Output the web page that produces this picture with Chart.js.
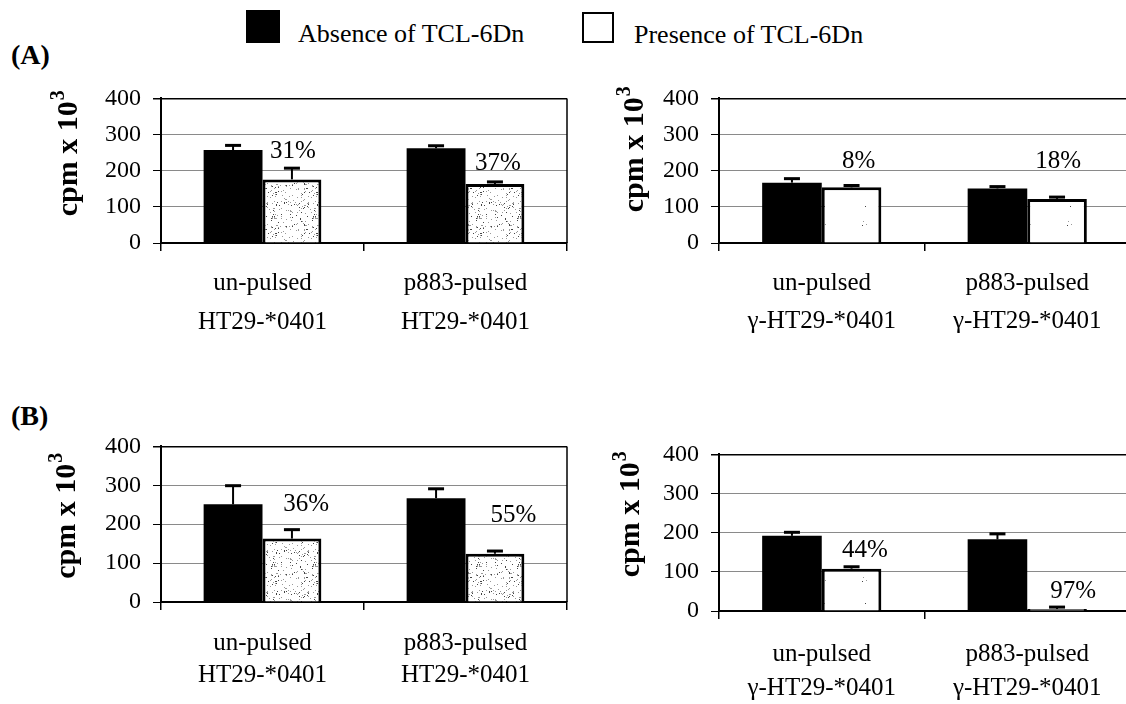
<!DOCTYPE html>
<html>
<head>
<meta charset="utf-8">
<script src="https://cdn.jsdelivr.net/npm/chart.js@4.4.0/dist/chart.umd.min.js"></script>
<style>
  body { margin: 0; background: #fff; width: 1126px; height: 704px; overflow: hidden; position: relative;
         font-family: "Liberation Serif", "Times New Roman", serif; color: #000; }
  .panel { position: absolute; }
  .tag { position: absolute; font-weight: bold; font-size: 28px; line-height: 28px; }
  .legend-box { position: absolute; box-sizing: border-box; }
  .legend-text { position: absolute; font-size: 26px; line-height: 34px; white-space: nowrap; }
</style>
</head>
<body>
<div class="tag" style="left:11px;top:41px">(A)</div>
<div class="tag" style="left:11px;top:402px">(B)</div>

<div class="legend-box" style="left:246px;top:10px;width:34px;height:33px;background:#000"></div>
<div class="legend-text" style="left:298px;top:17px">Absence of TCL-6Dn</div>
<div class="legend-box" style="left:582px;top:12px;width:32px;height:31px;border:2.5px solid #000;background:#fff"></div>
<div class="legend-text" style="left:634px;top:18px">Presence of TCL-6Dn</div>

<div class="panel" style="left:0px;top:72px;width:577px;height:271px"><canvas id="chartA1"></canvas></div>
<div class="panel" style="left:558px;top:72px;width:582px;height:271px"><canvas id="chartA2"></canvas></div>
<div class="panel" style="left:0px;top:420px;width:577px;height:282px"><canvas id="chartB1"></canvas></div>
<div class="panel" style="left:558px;top:428px;width:582px;height:283px"><canvas id="chartB2"></canvas></div>

<script>
// categories and ticks
const catsHT29 = [["un-pulsed", "HT29-*0401"], ["p883-pulsed", "HT29-*0401"]];
const catsGamma = [["un-pulsed", "γ-HT29-*0401"], ["p883-pulsed", "γ-HT29-*0401"]];
const yMin = 0;
const yMax = 400;
const yStep = 100;

// (A) left: HT29-*0401
const absenceA1 = [257, 262];
const absenceErrA1 = [13, 7];
const presenceA1 = [176, 163];
const presenceErrA1 = [31, 6];
const pctA1 = ["31%", "37%"];
const pctAtA1 = [0.15, 1.16];
const pctValA1 = [252, 220];

// (A) right: γ-HT29-*0401
const absenceA2 = [167, 151];
const absenceErrA2 = [11, 5];
const presenceA2 = [154, 122];
const presenceErrA2 = [5, 5];
const pctA2 = ["8%", "18%"];
const pctAtA2 = [0.18, 1.15];
const pctValA2 = [225, 225];

// (B) left: HT29-*0401
const absenceB1 = [251, 267];
const absenceErrB1 = [48, 24];
const presenceB1 = [163, 124];
const presenceErrB1 = [23, 7];
const pctB1 = ["36%", "55%"];
const pctAtB1 = [0.215, 1.236];
const pctValB1 = [250, 223];

// (B) right: γ-HT29-*0401
const absenceB2 = [192, 183];
const absenceErrB2 = [9, 14];
const presenceB2 = [108, 5];
const presenceErrB2 = [5, 5];
const pctB2 = ["44%", "97%"];
const pctAtB2 = [0.21, 1.224];
const pctValB2 = [154, 49];

const SERIF = "'Liberation Serif', 'Times New Roman', serif";

// scanned-looking speckle for the "presence" bars (fixed seed, texture only)
function speckle(dots) {
    const size = 41;
    const c = document.createElement("canvas");
    c.width = size;
    c.height = size;
    const g = c.getContext("2d");
    g.fillStyle = "#fff";
    g.fillRect(0, 0, size, size);
    let s = 12345;
    for (let k = 0; k < dots; k++) {
        s = (s * 1103515245 + 12345) & 0x7fffffff;
        const px = s % size;
        s = (s * 1103515245 + 12345) & 0x7fffffff;
        const py = s % size;
        g.fillStyle = k % 3 === 0 ? "#444" : "#9a9a9a";
        g.fillRect(px, py, 1, 1);
    }
    return g.createPattern(c, "repeat");
}

// error bars (upper half only, like the original)
const errorBars = {
    id: "errorBars",
    afterDatasetsDraw(chart) {
        const ctx = chart.ctx;
        const y = chart.scales.y;
        chart.data.datasets.forEach((ds, i) => {
            chart.getDatasetMeta(i).data.forEach((bar, j) => {
                const top = y.getPixelForValue(ds.data[j] + ds.errors[j]);
                ctx.save();
                ctx.strokeStyle = "#000";
                ctx.lineWidth = 2;
                ctx.beginPath();
                ctx.moveTo(bar.x, bar.y);
                ctx.lineTo(bar.x, top);
                ctx.stroke();
                ctx.lineWidth = 3;
                ctx.beginPath();
                ctx.moveTo(bar.x - 8, top);
                ctx.lineTo(bar.x + 8, top);
                ctx.stroke();
                ctx.restore();
            });
        });
    }
};

// right side of the plot frame
const frame = {
    id: "frame",
    afterDraw(chart) {
        const a = chart.chartArea;
        const ctx = chart.ctx;
        ctx.save();
        ctx.strokeStyle = "#000";
        ctx.lineWidth = 1.5;
        ctx.beginPath();
        ctx.moveTo(a.right, a.top);
        ctx.lineTo(a.right, a.bottom);
        ctx.stroke();
        ctx.restore();
    }
};

// percentage labels
const pctLabels = {
    id: "pctLabels",
    afterDraw(chart, args, opts) {
        const ctx = chart.ctx;
        ctx.save();
        ctx.fillStyle = "#000";
        ctx.font = "25px " + SERIF;
        ctx.textAlign = "center";
        ctx.textBaseline = "middle";
        opts.text.forEach((t, k) => {
            ctx.fillText(t, chart.scales.x.getPixelForValue(opts.at[k]), chart.scales.y.getPixelForValue(opts.val[k]));
        });
        ctx.restore();
    }
};

// rotated axis title with superscript
const yTitle = {
    id: "yTitle",
    afterDraw(chart, args, opts) {
        const a = chart.chartArea;
        const ctx = chart.ctx;
        ctx.save();
        ctx.translate(a.left - opts.dx, (a.top + a.bottom) / 2 - opts.dy);
        ctx.rotate(-Math.PI / 2);
        ctx.fillStyle = "#000";
        ctx.textBaseline = "middle";
        ctx.textAlign = "left";
        ctx.font = "bold 30px " + SERIF;
        const main = "cpm x 10";
        const w1 = ctx.measureText(main).width;
        ctx.font = "bold 20px " + SERIF;
        const w2 = ctx.measureText("3").width;
        const x0 = -(w1 + w2) / 2;
        ctx.font = "bold 30px " + SERIF;
        ctx.fillText(main, x0, 0);
        ctx.font = "bold 20px " + SERIF;
        ctx.fillText("3", x0 + w1 + 1, -10);
        ctx.restore();
    }
};

function drawPanel(id, cats, absence, absenceErr, presence, presenceErr, pct, pctAt, pctVal, look) {
    const ctx = document.getElementById(id).getContext("2d");
    return new Chart(ctx, {
        type: "bar",
        data: {
            labels: cats,
            datasets: [
                {
                    label: "Absence of TCL-6Dn",
                    data: absence,
                    errors: absenceErr,
                    backgroundColor: "#000",
                    borderColor: "#000",
                    borderWidth: 0
                },
                {
                    label: "Presence of TCL-6Dn",
                    data: presence,
                    errors: presenceErr,
                    backgroundColor: speckle(look.dots),
                    borderColor: "#000",
                    borderWidth: 3
                }
            ]
        },
        options: {
            responsive: true,
            maintainAspectRatio: false,
            animation: false,
            events: [],
            categoryPercentage: 0.58,
            barPercentage: 1,
            layout: { padding: { top: 20, right: 10, bottom: 0, left: 0 } },
            plugins: {
                legend: { display: false },
                tooltip: { enabled: false },
                pctLabels: { text: pct, at: pctAt, val: pctVal },
                yTitle: { dx: look.titleDx, dy: look.titleDy }
            },
            scales: {
                x: {
                    offset: true,
                    grid: { offset: true, drawOnChartArea: false, drawTicks: true, tickLength: 8, color: "#000", lineWidth: 1.5 },
                    border: { color: "#000", width: 2 },
                    ticks: {
                        color: "#000",
                        font: { family: SERIF, size: 25, lineHeight: look.lineHeight },
                        padding: look.pad,
                        maxRotation: 0,
                        autoSkip: false
                    },
                    afterFit(s) { s.height = look.xHeight; }
                },
                y: {
                    min: yMin,
                    max: yMax,
                    grid: {
                        color: (c) => (c.tick && c.tick.value === yMax ? "#000" : "#8a8a8a"),
                        lineWidth: (c) => (c.tick && c.tick.value === yMax ? 1.5 : 1),
                        tickColor: "#000",
                        tickLength: 8
                    },
                    border: { color: "#000", width: 2 },
                    ticks: {
                        stepSize: yStep,
                        color: "#000",
                        font: { family: SERIF, size: 24 },
                        padding: 12
                    },
                    afterFit(s) { s.width = look.yWidth; }
                }
            }
        },
        plugins: [errorBars, frame, pctLabels, yTitle]
    });
}

drawPanel("chartA1", catsHT29, absenceA1, absenceErrA1, presenceA1, presenceErrA1, pctA1, pctAtA1, pctValA1,
    { yWidth: 161, xHeight: 100, pad: 13, lineHeight: 1.55, titleDx: 92, titleDy: 17, dots: 150 });
drawPanel("chartA2", catsGamma, absenceA2, absenceErrA2, presenceA2, presenceErrA2, pctA2, pctAtA2, pctValA2,
    { yWidth: 161, xHeight: 100, pad: 13, lineHeight: 1.53, titleDx: 84, titleDy: 21, dots: 4 });
drawPanel("chartB1", catsHT29, absenceB1, absenceErrB1, presenceB1, presenceErrB1, pctB1, pctAtB1, pctValB1,
    { yWidth: 161, xHeight: 100, pad: 17, lineHeight: 1.28, titleDx: 94, titleDy: 8, dots: 150 });
drawPanel("chartB2", catsGamma, absenceB2, absenceErrB2, presenceB2, presenceErrB2, pctB2, pctAtB2, pctValB2,
    { yWidth: 161, xHeight: 100, pad: 19, lineHeight: 1.35, titleDx: 88, titleDy: 18, dots: 4 });
</script>
</body>
</html>
